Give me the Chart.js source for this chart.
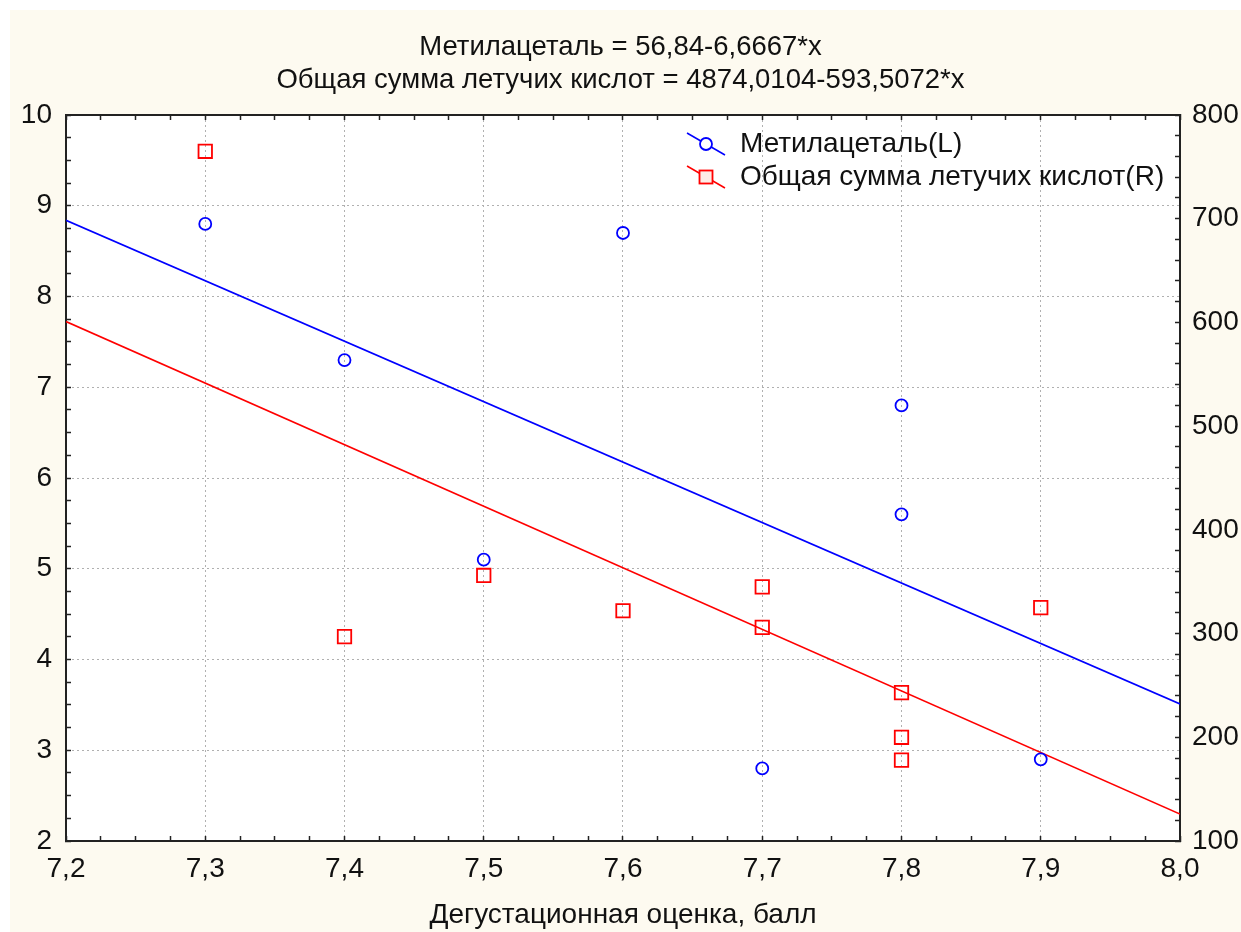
<!DOCTYPE html>
<html>
<head>
<meta charset="utf-8">
<script src="https://cdn.jsdelivr.net/npm/chart.js@4.4.1/dist/chart.umd.min.js"></script>
<style>
html,body{margin:0;padding:0;background:#fff;}
canvas{display:block;}
</style>
</head>
<body>
<canvas id="c" width="1241" height="932"></canvas>
<script>
// ---------- data ----------
const titleLines = ['Метилацеталь = 56,84-6,6667*x', 'Общая сумма летучих кислот = 4874,0104-593,5072*x'];
const xAxisTitle = 'Дегустационная оценка, балл';
const seriesNames = ['Метилацеталь(L)', 'Общая сумма летучих кислот(R)'];

const metilX = [7.3, 7.4, 7.5, 7.6, 7.7, 7.8, 7.8, 7.9];
const metilY = [8.8, 7.3, 5.1, 8.7, 2.8, 6.8, 5.6, 2.9];

const acidsX = [7.3, 7.4, 7.5, 7.6, 7.7, 7.7, 7.8, 7.8, 7.8, 7.9];
const acidsY = [765, 297, 356, 322, 345, 306, 243, 200, 178, 325];

const fitX = [7.2, 8.0];
const metilFit = [8.84, 3.51];
const acidsFit = [600.8, 126.0];

const xTicks = [7.2, 7.3, 7.4, 7.5, 7.6, 7.7, 7.8, 7.9, 8.0];
const xTickLabels = ['7,2', '7,3', '7,4', '7,5', '7,6', '7,7', '7,8', '7,9', '8,0'];
const yLeftTicks = [2, 3, 4, 5, 6, 7, 8, 9, 10];
const yLeftTickLabels = ['2', '3', '4', '5', '6', '7', '8', '9', '10'];
const yRightTicks = [100, 200, 300, 400, 500, 600, 700, 800];
const yRightTickLabels = ['100', '200', '300', '400', '500', '600', '700', '800'];

// ---------- helpers ----------
function subdivide(majors, n) {
  const out = [];
  for (let i = 0; i < majors.length - 1; i++) {
    for (let k = 0; k < n; k++) out.push(majors[i] + (majors[i + 1] - majors[i]) * k / n);
  }
  out.push(majors[majors.length - 1]);
  return out;
}
function majorIndex(v, majors) {
  for (let i = 0; i < majors.length; i++) if (Math.abs(v - majors[i]) < 1e-7) return i;
  return -1;
}
function labelFor(v, majors, labels) {
  const i = majorIndex(v, majors);
  return i >= 0 ? labels[i] : '';
}

const FAM = '"Liberation Sans", Arial, sans-serif';
const FS = 28;
const FONT = {family: FAM, size: FS};
const TXT = '#111';
const GRID = '#b0b0b0';
const AXIS = '#222';
const NONE = 'rgba(0,0,0,0)';

function makeIcon(color, shape) {
  const c = document.createElement('canvas');
  c.width = 44; c.height = 28;
  const g = c.getContext('2d');
  g.strokeStyle = color; g.lineWidth = 1.5;
  g.beginPath(); g.moveTo(3, 3); g.lineTo(41, 25); g.stroke();
  g.lineWidth = 1.8;
  if (shape === 'circle') {
    g.fillStyle = '#fff';
    g.beginPath(); g.arc(22, 14, 6, 0, Math.PI * 2); g.fill(); g.stroke();
  } else {
    g.fillStyle = '#fdece6';
    g.fillRect(15.5, 7.5, 13, 13); g.strokeRect(15.5, 7.5, 13, 13);
  }
  return c;
}
const icons = [makeIcon('#0000ff', 'circle'), makeIcon('#ff0000', 'rect')];

const bgPlugin = {
  id: 'bg',
  beforeDraw(chart) {
    const {ctx, chartArea: a} = chart;
    ctx.save();
    ctx.fillStyle = '#ffffff';
    ctx.fillRect(0, 0, chart.width, chart.height);
    ctx.fillStyle = 'rgb(253,250,240)';
    ctx.fillRect(10, 10, chart.width - 10, chart.height - 10);
    ctx.fillStyle = '#ffffff';
    ctx.fillRect(a.left, a.top, a.right - a.left, a.bottom - a.top);
    ctx.restore();
  }
};

const LEG_PAD = 5;
const legendPos = {
  id: 'legendPos',
  afterLayout(chart) {
    const l = chart.legend;
    if (!l) return;
    l.left = 686 - LEG_PAD;
    l.right = l.left + l.width;
    l.top = 130 - LEG_PAD;
    l.bottom = l.top + l.height;
  }
};

function xScale(position, showLabels, extra) {
  return Object.assign({
    type: 'linear', position: position, min: 7.2, max: 8.0,
    afterBuildTicks: s => { s.ticks = subdivide(xTicks, 4).map(v => ({value: v})); },
    ticks: {
      display: showLabels, autoSkip: false, maxRotation: 0, minRotation: 0,
      padding: 16, font: FONT, color: TXT,
      callback: v => labelFor(v, xTicks, xTickLabels)
    },
    grid: {
      drawOnChartArea: position === 'bottom',
      color: c => (c.tick && majorIndex(c.tick.value, xTicks) >= 0) ? GRID : NONE,
      lineWidth: 1, drawTicks: true, tickLength: -5, tickColor: AXIS, tickWidth: 1.5
    },
    border: {display: true, color: AXIS, width: 2, dash: [2, 3]}
  }, extra);
}

new Chart(document.getElementById('c'), {
  type: 'scatter',
  data: {
    datasets: [
      {
        label: seriesNames[0],
        data: metilX.map((x, i) => ({x: x, y: metilY[i]})),
        xAxisID: 'x', yAxisID: 'y', showLine: false,
        pointStyle: 'circle', pointRadius: 6, pointHoverRadius: 6,
        pointBorderWidth: 1.8, borderColor: '#0000ff', backgroundColor: NONE
      },
      {
        label: seriesNames[1],
        data: acidsX.map((x, i) => ({x: x, y: acidsY[i]})),
        xAxisID: 'x', yAxisID: 'y2', showLine: false,
        pointStyle: 'rect', pointRadius: 9.5, pointHoverRadius: 9.5,
        pointBorderWidth: 1.8, borderColor: '#ff0000', backgroundColor: NONE
      },
      {
        label: 'fitL',
        data: fitX.map((x, i) => ({x: x, y: metilFit[i]})),
        xAxisID: 'x', yAxisID: 'y', showLine: true, pointRadius: 0,
        borderColor: '#0000ff', borderWidth: 1.6, backgroundColor: NONE
      },
      {
        label: 'fitR',
        data: fitX.map((x, i) => ({x: x, y: acidsFit[i]})),
        xAxisID: 'x', yAxisID: 'y2', showLine: true, pointRadius: 0,
        borderColor: '#ff0000', borderWidth: 1.6, backgroundColor: NONE
      }
    ]
  },
  options: {
    responsive: false,
    devicePixelRatio: 1,
    animation: false,
    events: [],
    layout: {padding: 0},
    scales: {
      x: xScale('bottom', true, {
        afterFit: s => { s.height = 91; },
        title: {display: true, text: xAxisTitle, font: FONT, color: TXT, padding: {top: 0, bottom: 0}}
      }),
      x2: xScale('top', false, {
        afterFit: s => { s.height = 0; }
      }),
      y: {
        type: 'linear', position: 'left', min: 2, max: 10,
        afterBuildTicks: s => { s.ticks = subdivide(yLeftTicks, 4).map(v => ({value: v})); },
        afterFit: s => { s.width = 66; },
        ticks: {autoSkip: false, padding: 19, font: FONT, color: TXT,
          callback: v => labelFor(v, yLeftTicks, yLeftTickLabels)},
        grid: {
          color: c => (c.tick && majorIndex(c.tick.value, yLeftTicks) >= 0) ? GRID : NONE,
          lineWidth: 1, drawTicks: true, tickLength: -5, tickColor: AXIS, tickWidth: 1.5
        },
        border: {display: true, color: AXIS, width: 2, dash: [2, 3]}
      },
      y2: {
        type: 'linear', position: 'right', min: 100, max: 800,
        afterBuildTicks: s => { s.ticks = subdivide(yRightTicks, 5).map(v => ({value: v})); },
        afterFit: s => { s.width = 61; },
        ticks: {autoSkip: false, padding: 17, font: FONT, color: TXT,
          callback: v => labelFor(v, yRightTicks, yRightTickLabels)},
        grid: {drawOnChartArea: false, drawTicks: true, tickLength: -5, tickColor: AXIS, tickWidth: 1.5},
        border: {display: true, color: AXIS, width: 2}
      }
    },
    plugins: {
      title: {
        display: true, text: titleLines, color: TXT, align: 'center',
        font: {family: FAM, size: 27.5, weight: 'normal', lineHeight: 33 / 27.5},
        padding: {top: 30.5, bottom: 18.5}
      },
      legend: {
        display: true, position: 'chartArea', align: 'start',
        labels: {
          usePointStyle: true, pointStyleWidth: 40, padding: LEG_PAD,
          font: FONT, color: TXT,
          generateLabels: chart => [0, 1].map(i => ({
            text: chart.data.datasets[i].label,
            pointStyle: icons[i],
            fillStyle: NONE, strokeStyle: NONE, lineWidth: 0,
            fontColor: TXT, hidden: false, datasetIndex: i
          }))
        }
      },
      tooltip: {enabled: false}
    }
  },
  plugins: [bgPlugin, legendPos]
});
</script>
</body>
</html>
